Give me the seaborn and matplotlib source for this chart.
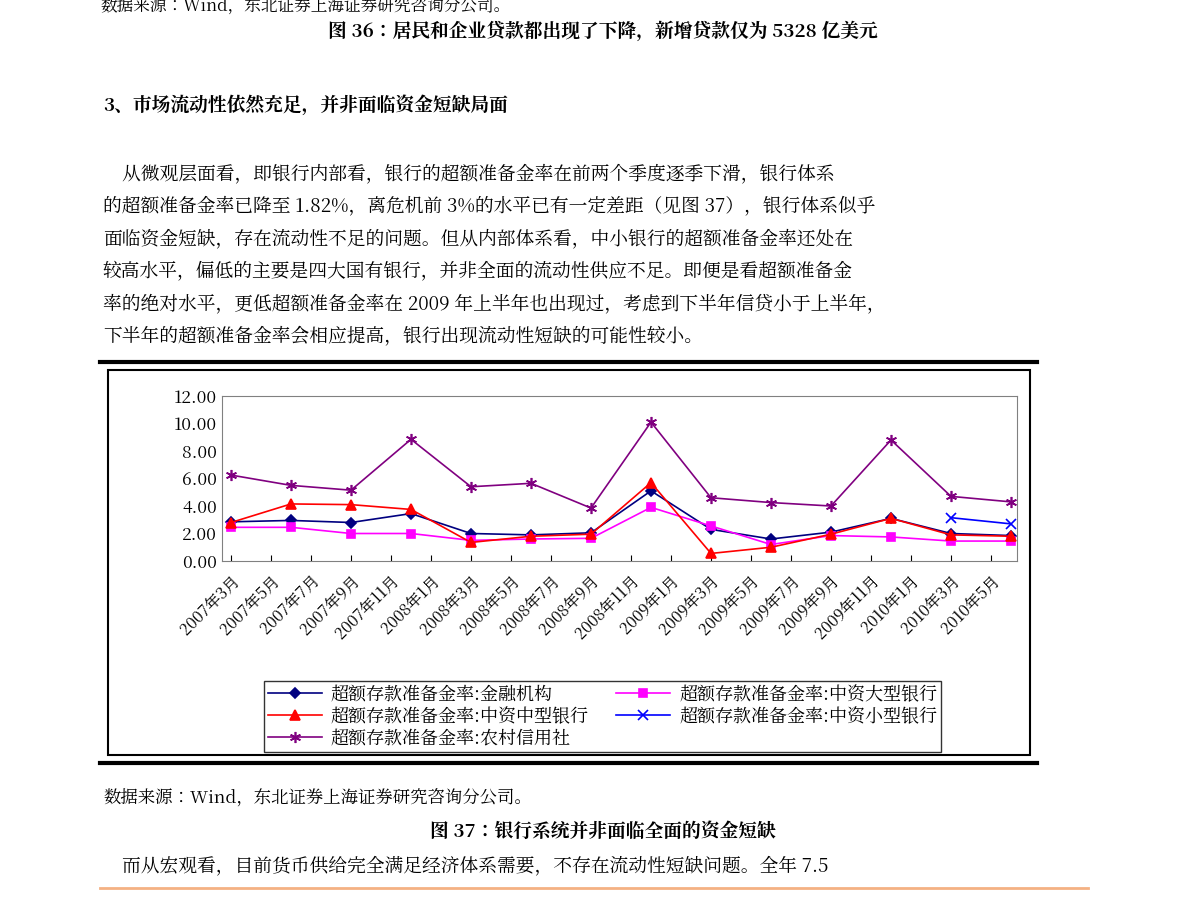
import matplotlib
matplotlib.use("Agg")
import matplotlib.pyplot as plt
from matplotlib import font_manager as fm
import seaborn as sns
import pandas as pd
from matplotlib.lines import Line2D

cjk = [f for f in fm.fontManager.ttflist if "CJK" in f.name]
pref = [f.name for f in cjk if "SC" in f.name] or [f.name for f in cjk]
FONT = pref[0] if pref else "DejaVu Sans"
plt.rcParams["font.family"] = [FONT, "DejaVu Sans"]

# ---- data ----
months = [0, 3, 6, 9, 12, 15, 18, 21, 24, 27, 30, 33, 36, 39]  # months since 2007-03
fin = [2.85, 2.95, 2.8, 3.45, 2.0, 1.9, 2.05, 5.1, 2.3, 1.6, 2.1, 3.1, 2.0, 1.85]
large = [2.45, 2.45, 2.0, 2.0, 1.5, 1.6, 1.65, 3.9, 2.55, 1.2, 1.85, 1.75, 1.45, 1.45]
medium = [2.8, 4.15, 4.1, 3.75, 1.35, 1.8, 1.95, 5.7, 0.55, 1.0, 1.95, 3.1, 1.9, 1.8]
small = [None] * 12 + [3.15, 2.7]
rural = [6.25, 5.5, 5.15, 8.85, 5.4, 5.65, 3.85, 10.1, 4.6, 4.25, 4.0, 8.8, 4.7, 4.3]
tick_labels = ["2007年3月", "2007年5月", "2007年7月", "2007年9月", "2007年11月",
               "2008年1月", "2008年3月", "2008年5月", "2008年7月", "2008年9月", "2008年11月",
               "2009年1月", "2009年3月", "2009年5月", "2009年7月", "2009年9月", "2009年11月",
               "2010年1月", "2010年3月", "2010年5月"]
yticks = [0, 2, 4, 6, 8, 10, 12]

names = ["超额存款准备金率:金融机构", "超额存款准备金率:中资大型银行",
         "超额存款准备金率:中资中型银行", "超额存款准备金率:中资小型银行",
         "超额存款准备金率:农村信用社"]
series = [fin, large, medium, small, rural]
colors = ["#000080", "#FF00FF", "#FF0000", "#0000FF", "#800080"]
markers = ["D", "s", "^", "x", (6, 2, 0)]
msizes = [5, 6, 7, 7, 8]

W, H = 1191, 901
fig = plt.figure(figsize=(W / 100, H / 100), dpi=100)

def ft(x, y, s, size=13.5, **kw):
    fig.text(x / W, 1 - y / H, s, fontsize=size, va="center", **kw)

ft(100, 6, "数据来源：Wind，东北证券上海证券研究咨询分公司。", 12)
ft(603, 32, "图 36：居民和企业贷款都出现了下降，新增贷款仅为 5328 亿美元", 13.5, ha="center", weight="bold")
ft(103, 105, "3、市场流动性依然充足，并非面临资金短缺局面", 13.5, weight="bold")
body = ["    从微观层面看，即银行内部看，银行的超额准备金率在前两个季度逐季下滑，银行体系",
        "的超额准备金率已降至 1.82%，离危机前 3%的水平已有一定差距（见图 37），银行体系似乎",
        "面临资金短缺，存在流动性不足的问题。但从内部体系看，中小银行的超额准备金率还处在",
        "较高水平，偏低的主要是四大国有银行，并非全面的流动性供应不足。即便是看超额准备金",
        "率的绝对水平，更低超额准备金率在 2009 年上半年也出现过，考虑到下半年信贷小于上半年，",
        "下半年的超额准备金率会相应提高，银行出现流动性短缺的可能性较小。"]
for i, line in enumerate(body):
    ft(103, 174 + i * 32.5, line, 13.5)
ft(103, 798, "数据来源：Wind，东北证券上海证券研究咨询分公司。", 12.5)
ft(603, 832, "图 37：银行系统并非面临全面的资金短缺", 13.5, ha="center", weight="bold")
ft(103, 866, "    而从宏观看，目前货币供给完全满足经济体系需要，不存在流动性短缺问题。全年 7.5", 13.5)

# frame lines
for yy in (362, 763):
    fig.add_artist(Line2D([100 / W, 1037 / W], [1 - yy / H] * 2, color="black", lw=3))
fig.add_artist(Line2D([100 / W, 1088 / W], [1 - 888 / H] * 2, color="#F4B183", lw=2))
fig.add_artist(plt.Rectangle((108 / W, 1 - 755 / H), (1030 - 108) / W, (755 - 370) / H,
                             fill=False, lw=1.5, ec="black", transform=fig.transFigure))

ax = fig.add_axes([222 / W, 1 - 561 / H, (1017 - 222) / W, (561 - 396) / H])
rows = []
for n, s in zip(names, series):
    for m, v in zip(months, s):
        if v is not None:
            rows.append({"m": m, "v": v, "s": n})
df = pd.DataFrame(rows)
for n, c, mk, ms in zip(names, colors, markers, msizes):
    sub = df[df.s == n]
    sns.lineplot(data=sub, x="m", y="v", ax=ax, color=c, marker=mk, markersize=ms,
                 markeredgecolor=c, markeredgewidth=1.2, lw=1.2, label=n)
ax.set_xlim(-0.45, 39.3)
ax.set_ylim(0, 12)
ax.set_yticks(yticks)
ax.set_yticklabels([f"{t:.2f}" for t in yticks], fontsize=12.5)
ax.set_xticks(range(0, 40, 2))
ax.set_xticklabels(tick_labels, rotation=45, ha="right", rotation_mode="anchor", fontsize=11.5)
ax.tick_params(axis="x", length=4, direction="in", pad=8)
ax.tick_params(axis="y", length=0)
ax.set_xlabel("")
ax.set_ylabel("")
for sp in ax.spines.values():
    sp.set_color("#808080")
ax.legend().remove()
h, l = ax.get_legend_handles_labels()
order = [0, 2, 4, 1, 3]
fig.legend([h[i] for i in order], [l[i] for i in order], ncol=2,
           loc="upper left", bbox_to_anchor=(255 / W, 1 - 672 / H),
           frameon=True, fancybox=False, edgecolor="black", fontsize=13,
           handlelength=3, borderpad=0.2, labelspacing=0.1, columnspacing=1.5,
           handletextpad=0.5)
fig.savefig("out.png", dpi=100)
